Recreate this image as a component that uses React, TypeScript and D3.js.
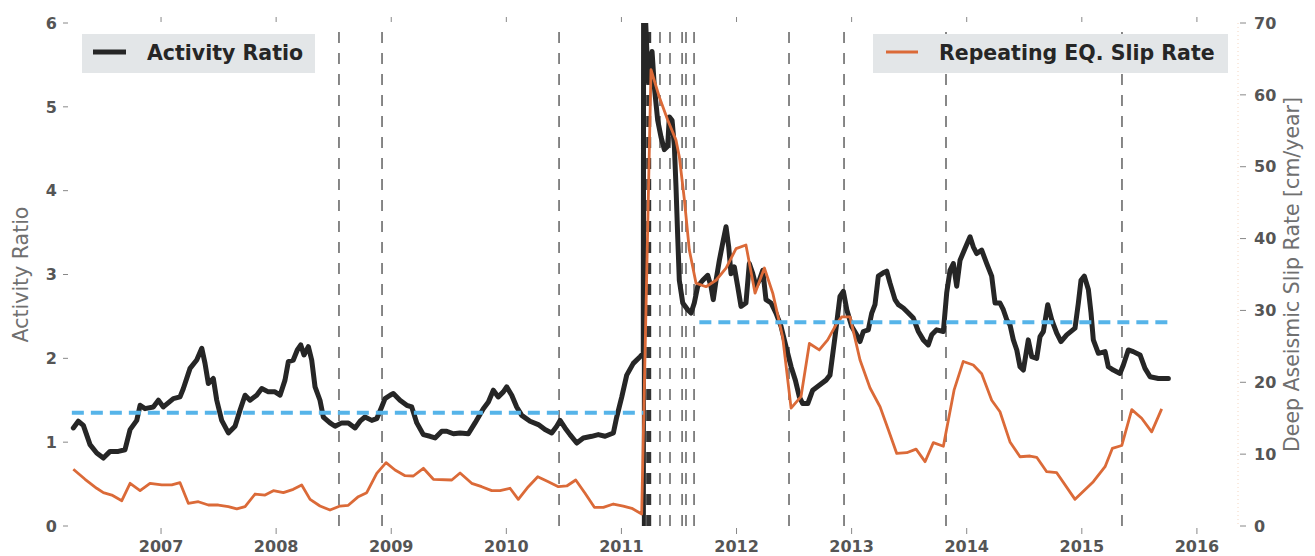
import React from 'react';
import * as d3 from 'd3';

const W = 1315;
const H = 556;
const PLOT = { left: 70, right: 1238, top: 23, bottom: 526 };

// [decimal year, activity ratio]
const activityRatio: [number, number][] = [
  [2006.238, 1.17], [2006.281, 1.25], [2006.325, 1.2], [2006.383, 0.97], [2006.441, 0.87],
  [2006.499, 0.81], [2006.557, 0.89], [2006.629, 0.89], [2006.687, 0.91], [2006.731, 1.15],
  [2006.789, 1.26], [2006.818, 1.44], [2006.861, 1.4], [2006.933, 1.42], [2006.977, 1.5],
  [2007.02, 1.42], [2007.107, 1.52], [2007.165, 1.54], [2007.194, 1.64], [2007.252, 1.88],
  [2007.31, 1.98], [2007.354, 2.12], [2007.382, 1.94], [2007.411, 1.7], [2007.454, 1.76],
  [2007.484, 1.5], [2007.527, 1.26], [2007.585, 1.11], [2007.643, 1.19], [2007.686, 1.38],
  [2007.73, 1.56], [2007.773, 1.5], [2007.831, 1.56], [2007.875, 1.64], [2007.932, 1.6],
  [2007.99, 1.6], [2008.034, 1.56], [2008.077, 1.74], [2008.106, 1.96], [2008.149, 1.98],
  [2008.184, 2.1], [2008.214, 2.16], [2008.242, 2.04], [2008.28, 2.14], [2008.309, 1.98],
  [2008.338, 1.66], [2008.381, 1.5], [2008.41, 1.3], [2008.468, 1.23], [2008.512, 1.19],
  [2008.57, 1.23], [2008.627, 1.23], [2008.686, 1.17], [2008.729, 1.25], [2008.772, 1.3],
  [2008.831, 1.26], [2008.874, 1.28], [2008.917, 1.42], [2008.946, 1.52], [2008.99, 1.56],
  [2009.018, 1.58], [2009.076, 1.5], [2009.135, 1.44], [2009.178, 1.42], [2009.222, 1.23],
  [2009.279, 1.09], [2009.337, 1.07], [2009.381, 1.05], [2009.439, 1.13], [2009.482, 1.13],
  [2009.54, 1.1], [2009.598, 1.11], [2009.67, 1.1], [2009.728, 1.23], [2009.8, 1.4],
  [2009.844, 1.48], [2009.887, 1.62], [2009.93, 1.54], [2009.974, 1.6], [2010.003, 1.66],
  [2010.047, 1.56], [2010.09, 1.42], [2010.134, 1.32], [2010.206, 1.25], [2010.278, 1.21],
  [2010.336, 1.15], [2010.394, 1.11], [2010.438, 1.19], [2010.467, 1.26], [2010.51, 1.17],
  [2010.553, 1.09], [2010.612, 0.99], [2010.669, 1.05], [2010.742, 1.07], [2010.799, 1.09],
  [2010.858, 1.07], [2010.93, 1.11], [2010.959, 1.3], [2011.003, 1.54], [2011.046, 1.8],
  [2011.103, 1.94], [2011.162, 2.02], [2011.19, 2.06], [2011.193, 6.6], [2011.232, 5.3],
  [2011.266, 5.66], [2011.286, 5.24], [2011.315, 4.84], [2011.344, 4.64], [2011.373, 4.49],
  [2011.402, 4.53], [2011.416, 4.88], [2011.44, 4.84], [2011.46, 4.53], [2011.474, 4.05],
  [2011.489, 3.45], [2011.503, 2.93], [2011.533, 2.66], [2011.576, 2.58], [2011.605, 2.54],
  [2011.633, 2.66], [2011.663, 2.86], [2011.706, 2.93], [2011.75, 2.99], [2011.778, 2.86],
  [2011.798, 2.7], [2011.822, 2.93], [2011.851, 3.17], [2011.885, 3.41], [2011.909, 3.57],
  [2011.932, 3.33], [2011.952, 3.01], [2011.981, 3.09], [2012.01, 2.86], [2012.039, 2.62],
  [2012.082, 2.66], [2012.111, 3.13], [2012.141, 3.01], [2012.169, 2.86], [2012.198, 2.93],
  [2012.228, 3.05], [2012.256, 2.7], [2012.3, 2.66], [2012.343, 2.54], [2012.387, 2.38],
  [2012.43, 2.14], [2012.474, 1.9], [2012.511, 1.74], [2012.546, 1.54], [2012.575, 1.46],
  [2012.619, 1.46], [2012.662, 1.62], [2012.719, 1.68], [2012.778, 1.74], [2012.812, 1.8],
  [2012.856, 2.26], [2012.899, 2.74], [2012.928, 2.8], [2012.958, 2.58], [2013.001, 2.38],
  [2013.044, 2.28], [2013.073, 2.2], [2013.102, 2.32], [2013.145, 2.34], [2013.175, 2.54],
  [2013.203, 2.64], [2013.232, 2.98], [2013.275, 3.02], [2013.305, 3.04], [2013.333, 2.9],
  [2013.377, 2.7], [2013.406, 2.64], [2013.449, 2.6], [2013.493, 2.54], [2013.536, 2.48],
  [2013.58, 2.32], [2013.623, 2.22], [2013.666, 2.16], [2013.696, 2.28], [2013.739, 2.34],
  [2013.797, 2.32], [2013.826, 2.78], [2013.855, 3.05], [2013.884, 3.13], [2013.913, 2.86],
  [2013.942, 3.17], [2013.985, 3.31], [2014.029, 3.45], [2014.057, 3.33], [2014.087, 3.25],
  [2014.13, 3.29], [2014.174, 3.13], [2014.217, 2.98], [2014.246, 2.66], [2014.289, 2.66],
  [2014.318, 2.58], [2014.348, 2.46], [2014.376, 2.4], [2014.405, 2.22], [2014.435, 2.1],
  [2014.463, 1.9], [2014.492, 1.86], [2014.535, 2.22], [2014.565, 2.02], [2014.608, 2.0],
  [2014.637, 2.26], [2014.666, 2.32], [2014.704, 2.64], [2014.739, 2.46], [2014.782, 2.3],
  [2014.819, 2.2], [2014.869, 2.28], [2014.941, 2.36], [2014.97, 2.66], [2014.993, 2.93],
  [2015.022, 2.98], [2015.057, 2.82], [2015.08, 2.54], [2015.1, 2.22], [2015.144, 2.06],
  [2015.202, 2.08], [2015.23, 1.9], [2015.274, 1.86], [2015.332, 1.82], [2015.361, 1.92],
  [2015.404, 2.1], [2015.447, 2.08], [2015.506, 2.04], [2015.549, 1.88], [2015.593, 1.78],
  [2015.665, 1.76], [2015.752, 1.76],
];

// [decimal year, slip rate cm/year]
const slipRate: [number, number][] = [
  [2006.238, 7.9], [2006.34, 6.5], [2006.441, 5.25], [2006.499, 4.64], [2006.572, 4.31],
  [2006.659, 3.52], [2006.731, 5.94], [2006.818, 4.92], [2006.904, 5.94], [2007.006, 5.71],
  [2007.093, 5.71], [2007.165, 6.03], [2007.237, 3.16], [2007.324, 3.38], [2007.411, 2.92],
  [2007.498, 2.92], [2007.585, 2.69], [2007.658, 2.37], [2007.73, 2.69], [2007.817, 4.45],
  [2007.904, 4.31], [2007.976, 4.92], [2008.063, 4.64], [2008.149, 5.1], [2008.222, 5.71],
  [2008.295, 3.71], [2008.381, 2.78], [2008.468, 2.23], [2008.555, 2.78], [2008.627, 2.88],
  [2008.714, 4.08], [2008.787, 4.64], [2008.874, 7.33], [2008.955, 8.81], [2009.033, 7.79],
  [2009.12, 7.0], [2009.192, 6.96], [2009.279, 8.03], [2009.366, 6.5], [2009.526, 6.4],
  [2009.598, 7.38], [2009.699, 5.94], [2009.786, 5.47], [2009.873, 4.92], [2009.945, 4.92],
  [2010.032, 5.25], [2010.104, 3.71], [2010.191, 5.47], [2010.273, 6.86], [2010.365, 6.17],
  [2010.452, 5.47], [2010.525, 5.57], [2010.603, 6.4], [2010.684, 4.55], [2010.765, 2.6],
  [2010.843, 2.6], [2010.93, 3.06], [2011.016, 2.78], [2011.09, 2.46], [2011.176, 1.67],
  [2011.257, 63.5], [2011.329, 59.7], [2011.402, 56.5], [2011.474, 53.7], [2011.503, 51.4],
  [2011.547, 45.4], [2011.59, 38.4], [2011.648, 33.8], [2011.735, 33.3], [2011.822, 34.2],
  [2011.909, 35.9], [2011.996, 38.6], [2012.082, 39.1], [2012.161, 32.4], [2012.242, 35.9],
  [2012.315, 32.4], [2012.401, 26.3], [2012.474, 16.4], [2012.56, 18.0], [2012.633, 25.4],
  [2012.719, 24.5], [2012.792, 25.9], [2012.864, 28.0], [2012.914, 29.1], [2012.986, 29.1],
  [2013.073, 23.1], [2013.16, 19.2], [2013.247, 16.6], [2013.319, 13.4], [2013.392, 10.1],
  [2013.479, 10.2], [2013.56, 10.7], [2013.638, 8.95], [2013.71, 11.6], [2013.797, 11.1],
  [2013.89, 18.9], [2013.97, 22.9], [2014.057, 22.4], [2014.13, 21.2], [2014.217, 17.5],
  [2014.289, 15.9], [2014.376, 11.7], [2014.463, 9.64], [2014.55, 9.74], [2014.608, 9.56],
  [2014.695, 7.56], [2014.782, 7.42], [2014.941, 3.71], [2015.1, 6.17], [2015.202, 8.26],
  [2015.265, 10.8], [2015.347, 11.2], [2015.434, 16.2], [2015.52, 15.0], [2015.607, 13.1],
  [2015.694, 16.3],
];

// mean activity ratio before / after the mainshock
const meanLevels = [
  { from: 2006.225, to: 2011.19, value: 1.35 },
  { from: 2011.677, to: 2015.752, value: 2.43 },
];

const mainShockYear = 2011.195;
const heavyEventYear = 2011.237;
const eventYears = [
  2008.546, 2008.92, 2010.458, 2011.335, 2011.422, 2011.527, 2011.561, 2011.631,
  2012.456, 2012.934, 2013.82, 2015.349,
];

const yearTicks = d3.range(2007, 2017);
const ratioTicks = d3.range(0, 7);
const slipTicks = d3.range(0, 80, 10);

const BLACK = '#262626';
const ORANGE = '#db6a38';
const BLUE = '#56b4e9';
const FONT = 'DejaVu Sans';

export default function App() {
  const x = d3.scaleLinear().domain([2006.209, 2016.357]).range([PLOT.left, PLOT.right]);
  const yL = d3.scaleLinear().domain([0, 6]).range([PLOT.bottom, PLOT.top]);
  const yR = d3.scaleLinear().domain([0, 70]).range([PLOT.bottom, PLOT.top]);

  const ratioLine = d3.line<[number, number]>().x(d => x(d[0])).y(d => yL(d[1]));
  const slipLine = d3.line<[number, number]>().x(d => x(d[0])).y(d => yR(d[1]));

  return (
    <svg width={W} height={H} style={{ position: 'absolute', left: 0, top: 0, background: '#fff' }}
      fontFamily={FONT}>
      <defs>
        <clipPath id="plot">
          <rect x={PLOT.left} y={PLOT.top} width={PLOT.right - PLOT.left} height={PLOT.bottom - PLOT.top} />
        </clipPath>
      </defs>

      {/* x ticks top and bottom */}
      {yearTicks.map(t => (
        <g key={t}>
          <line x1={x(t)} x2={x(t)} y1={PLOT.top - 6} y2={PLOT.top - 1} stroke="#888" strokeWidth={1} />
          <line x1={x(t)} x2={x(t)} y1={PLOT.bottom + 2} y2={PLOT.bottom + 8} stroke="#888" strokeWidth={1} />
          <text x={x(t)} y={552} textAnchor="middle" fontSize={16} fontWeight="bold" fill="#555">{t}</text>
        </g>
      ))}

      {/* left axis */}
      {ratioTicks.map(t => (
        <g key={t}>
          <line x1={63} x2={68} y1={yL(t)} y2={yL(t)} stroke="#888" strokeWidth={1} />
          <text x={57} y={yL(t)} dy="0.36em" textAnchor="end" fontSize={16} fontWeight="bold" fill="#555">{t}</text>
        </g>
      ))}
      <text transform={`translate(28,${(PLOT.top + PLOT.bottom) / 2}) rotate(-90)`} textAnchor="middle"
        fontSize={20.5} fill="#707070">Activity Ratio</text>

      {/* right axis */}
      <line x1={PLOT.right} x2={PLOT.right} y1={PLOT.top} y2={PLOT.bottom} stroke="#f3d6c2" strokeWidth={1}
        strokeDasharray="1,3" />
      {slipTicks.map(t => (
        <g key={t}>
          <line x1={1240} x2={1246} y1={yR(t)} y2={yR(t)} stroke="#888" strokeWidth={1} />
          <text x={1254} y={yR(t)} dy="0.36em" textAnchor="start" fontSize={16} fontWeight="bold" fill="#555">{t}</text>
        </g>
      ))}
      <text transform={`translate(1299,${(PLOT.top + PLOT.bottom) / 2}) rotate(-90)`} textAnchor="middle"
        fontSize={20.5} fill="#707070">Deep Aseismic Slip Rate [cm/year]</text>

      <g clipPath="url(#plot)">
        {/* earthquake markers */}
        {eventYears.map(t => (
          <line key={t} x1={x(t)} x2={x(t)} y1={PLOT.bottom} y2={PLOT.top} stroke="#555" strokeWidth={1.4}
            strokeDasharray="11,10" />
        ))}
        <line x1={x(heavyEventYear)} x2={x(heavyEventYear)} y1={PLOT.bottom} y2={PLOT.top} stroke="#333"
          strokeWidth={5} strokeDasharray="11,10" />
        <line x1={x(mainShockYear)} x2={x(mainShockYear)} y1={PLOT.bottom + 2} y2={PLOT.top} stroke={BLACK}
          strokeWidth={4} />

        <path d={ratioLine(activityRatio) ?? ''} fill="none" stroke={BLACK} strokeWidth={5}
          strokeLinejoin="round" strokeLinecap="round" />
        <path d={slipLine(slipRate) ?? ''} fill="none" stroke={ORANGE} strokeWidth={2.8}
          strokeLinejoin="round" />

        {meanLevels.map((m, i) => (
          <line key={i} x1={x(m.from)} x2={x(m.to)} y1={yL(m.value)} y2={yL(m.value)} stroke={BLUE}
            strokeWidth={4} strokeDasharray="12,7" />
        ))}
      </g>

      {/* legends */}
      <g>
        <rect x={82} y={34} width={233} height={39} fill="#e3e6e8" />
        <line x1={93} x2={126} y1={52} y2={52} stroke={BLACK} strokeWidth={5} />
        <text x={147} y={60} fontSize={20.5} fontWeight="bold" fill={BLACK}>Activity Ratio</text>
      </g>
      <g>
        <rect x={873} y={34} width={355} height={39} fill="#e3e6e8" />
        <line x1={886} x2={918} y1={52} y2={52} stroke={ORANGE} strokeWidth={3} />
        <text x={939} y={60} fontSize={20.5} fontWeight="bold" fill={BLACK}>Repeating EQ. Slip Rate</text>
      </g>
    </svg>
  );
}
